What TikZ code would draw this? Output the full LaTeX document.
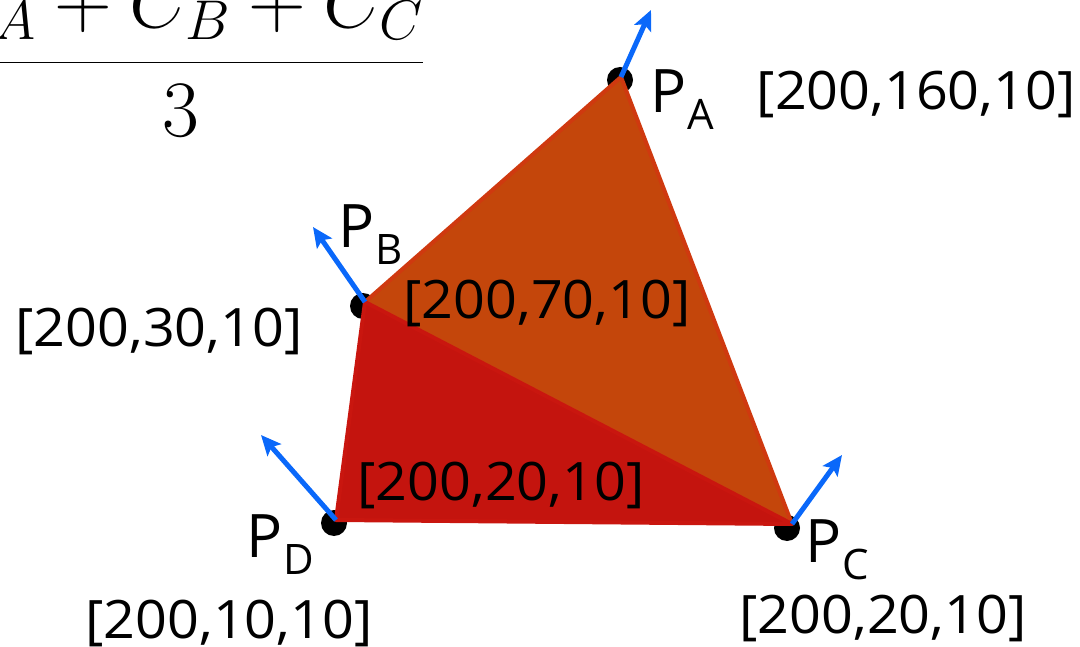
\RequirePackage{fix-cm}
\documentclass[tikz,border=0pt]{standalone}
\usepackage{fontspec}
\setmainfont{Open Sans}
\newfontfamily\numfont{Open Sans}[FakeStretch=1.05]
\usetikzlibrary{arrows.meta}
\definecolor{upfill}{HTML}{C4460B}
\definecolor{updraw}{HTML}{CF390F}
\definecolor{lofill}{HTML}{C4140E}
\definecolor{lodraw}{HTML}{C9160F}
\definecolor{nblue}{HTML}{0A68FA}
\newcommand\mkP[1]{{\fontsize{60}{60}\selectfont P}\kern1pt\raisebox{-17pt}{\fontsize{42}{42}\selectfont #1}}
\tikzset{
  coordlab/.style={anchor=base, inner sep=0pt, font=\numfont\fontsize{53}{53}\selectfont},
  plab/.style={anchor=base west, inner sep=0pt},
  vdot/.style={fill=black},
  normal/.style={draw=nblue, line width=5pt, -{Stealth[length=20pt,width=18pt,inset=4pt]}},
  uptri/.style={fill=upfill, draw=updraw, line width=4pt, line join=round},
  lotri/.style={fill=lofill, draw=lodraw, line width=4pt, line join=round},
}
\begin{document}
\begin{tikzpicture}[x=1pt,y=-1pt]
\useasboundingbox (0,0) rectangle (1080,647);
\clip (0,0) rectangle (1080,647);
% vertices
\coordinate (A) at (621,77);
\coordinate (B) at (365,302);
\coordinate (C) at (792,524);
\coordinate (D) at (336,520);
% normal tips
\coordinate (nA) at (651,10);
\coordinate (nB) at (313,227);
\coordinate (nC) at (842,455);
\coordinate (nD) at (261,435);
% formula
\node[anchor=base, inner sep=0pt] (formula) at (181,82)
  {\fontsize{80}{80}\selectfont $\displaystyle\frac{C_A+C_B+C_C}{3}$};
% dots
\fill[vdot] (620,80) circle (13);
\fill[vdot] (363,306) circle (13);
\fill[vdot] (787,528) circle (13);
\fill[vdot] (334,523) circle (13);
% triangles
\filldraw[uptri] (A) -- (B) -- (C) -- cycle;
\filldraw[lotri] (B) -- (C) -- (D) -- cycle;
% normals
\draw[normal] (A) -- (nA);
\draw[normal] (B) -- (nB);
\draw[normal] (C) -- (nC);
\draw[normal] (D) -- (nD);
% point labels
\node[plab] (lA) at (650,113) {\mkP{A}};
\node[plab] (lB) at (338,248) {\mkP{B}};
\node[plab] (lC) at (805,562) {\mkP{C}};
\node[plab] (lD) at (246,557) {\mkP{D}};
% colour labels
\node[coordlab] (cA) at (916,110) {[200,160,10]};
\node[coordlab] (cB) at (159,346) {[200,30,10]};
\node[coordlab] (cABC) at (547,319) {[200,70,10]};
\node[coordlab] (cBCD) at (501,500) {[200,20,10]};
\node[coordlab] (cD) at (229,638) {[200,10,10]};
\node[coordlab] (cC) at (883,633) {[200,20,10]};
\end{tikzpicture}
\end{document}
